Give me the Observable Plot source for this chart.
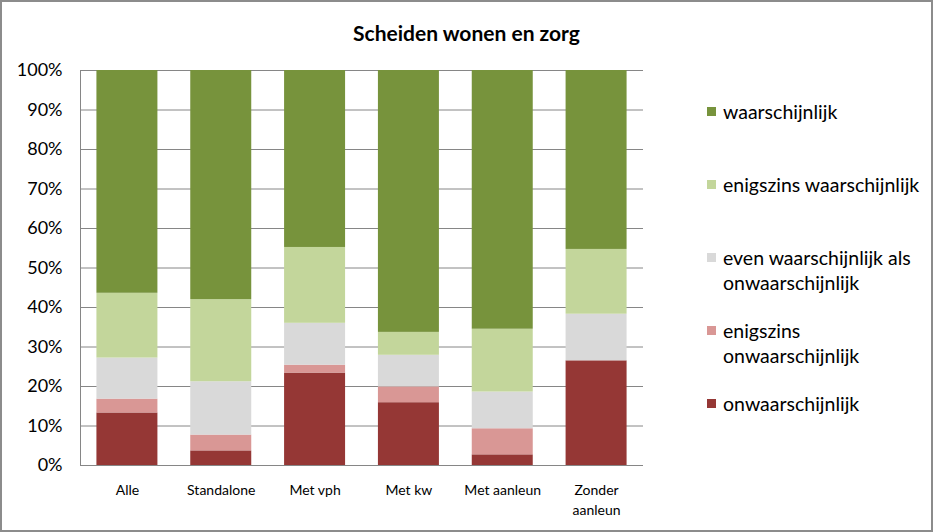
<!DOCTYPE html>
<html>
<head>
<meta charset="utf-8">
<script src="https://cdn.jsdelivr.net/npm/d3@7"></script>
<script src="https://cdn.jsdelivr.net/npm/@observablehq/plot@0.6"></script>
<style>
  html, body { margin: 0; padding: 0; background: #fff; }
  #wrap { position: relative; width: 933px; height: 532px; overflow: hidden; font-family: Lato, "Liberation Sans", sans-serif; color: #000; }
  #border { position: absolute; left: 0; top: 0; width: 933px; height: 532px; box-sizing: border-box; border: 2px solid #8c8c8c; pointer-events: none; }
  #title { height: 50px; line-height: 66px; text-align: center; font-weight: bold; font-size: 21px; padding-left: 0; }
  #chart svg { display: block; }
  #legend { position: absolute; left: 707px; top: 99px; }
  .item { position: relative; height: 73px; }
  .sw { position: absolute; left: 0; top: 8px; width: 9px; height: 9px; }
  .lab { position: absolute; left: 16px; top: 0; line-height: 25px; font-size: 19.5px; white-space: pre; }
</style>
</head>
<body>
<div id="wrap">
  <div id="title"></div>
  <div id="chart"></div>
  <div id="legend"></div>
  <div id="border"></div>
</div>
<script>
const title = "Scheiden wonen en zorg";
const categories = ["Alle", "Standalone", "Met vph", "Met kw", "Met aanleun", "Zonder aanleun"];
const categoryLabels = ["Alle", "Standalone", "Met vph", "Met kw", "Met aanleun", "Zonder\naanleun"];
const seriesNames = ["onwaarschijnlijk", "enigszins onwaarschijnlijk", "even waarschijnlijk als onwaarschijnlijk", "enigszins waarschijnlijk", "waarschijnlijk"];
const legendLabels = ["onwaarschijnlijk", "enigszins\nonwaarschijnlijk", "even waarschijnlijk als\nonwaarschijnlijk", "enigszins waarschijnlijk", "waarschijnlijk"];
const colors = ["#953735", "#D99795", "#D9D9D9", "#C3D69B", "#77933C"];

// percentages per category
const onwaarschijnlijk = [13.3, 3.7, 23.4, 15.9, 2.7, 26.5];
const enigszinsOnwaarschijnlijk = [3.5, 4.0, 2.0, 4.0, 6.6, 0.0];
const evenWaarschijnlijk = [10.4, 13.5, 10.6, 8.0, 9.3, 11.8];
const enigszinsWaarschijnlijk = [16.4, 20.8, 19.2, 5.8, 15.9, 16.4];
const waarschijnlijk = [56.4, 58.0, 44.8, 66.3, 65.5, 45.3];

const yTicks = [0, 0.1, 0.2, 0.3, 0.4, 0.5, 0.6, 0.7, 0.8, 0.9, 1.0];

const seriesValues = [onwaarschijnlijk, enigszinsOnwaarschijnlijk, evenWaarschijnlijk, enigszinsWaarschijnlijk, waarschijnlijk];
const data = [];
seriesNames.forEach((s, si) => {
  categories.forEach((c, ci) => {
    data.push({category: c, series: s, value: seriesValues[si][ci] / 100});
  });
});

document.getElementById("title").textContent = title;

const labelOf = new Map(categories.map((c, i) => [c, categoryLabels[i]]));

const plot = Plot.plot({
  width: 933,
  height: 482,
  marginTop: 20,
  marginBottom: 67,
  marginLeft: 80,
  marginRight: 290,
  style: {fontFamily: "Lato, 'Liberation Sans', sans-serif", color: "#000", background: "#fff"},
  x: {domain: categories, paddingInner: 0.35, paddingOuter: 0.175, round: false, label: null},
  y: {domain: [0, 1], label: null},
  color: {domain: seriesNames, range: colors},
  marks: [
    Plot.ruleY(yTicks, {stroke: "#868686", strokeWidth: 1}),
    Plot.barY(data, Plot.stackY({order: seriesNames}, {x: "category", y: "value", fill: "series", z: "series"})),
    Plot.frame({anchor: "left", stroke: "#868686"}),
    Plot.axisY(yTicks, {tickSize: 0, tickPadding: 18, tickFormat: d3.format(".0%"), fontSize: 18, label: null}),
    Plot.axisX({tickSize: 0, tickPadding: 16, tickFormat: d => labelOf.get(d), fontSize: 14, lineHeight: 1.4, label: null})
  ]
});
document.getElementById("chart").appendChild(plot);

const legend = document.getElementById("legend");
for (let i = seriesNames.length - 1; i >= 0; i--) {
  const item = document.createElement("div");
  item.className = "item";
  const sw = document.createElement("div");
  sw.className = "sw";
  sw.style.background = colors[i];
  const lab = document.createElement("div");
  lab.className = "lab";
  lab.textContent = legendLabels[i];
  item.appendChild(sw);
  item.appendChild(lab);
  legend.appendChild(item);
}
</script>
</body>
</html>
